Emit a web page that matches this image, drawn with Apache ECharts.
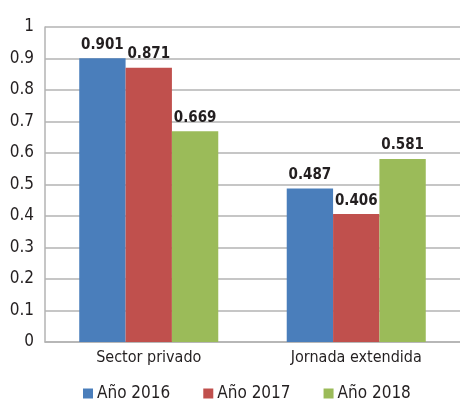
<!DOCTYPE html>
<html>
<head>
<meta charset="utf-8">
<script src="https://cdn.jsdelivr.net/npm/echarts@6/dist/echarts.min.js"></script>
<style>
html, body { margin: 0; padding: 0; background: #fff; }
#chart-panel { width: 460px; height: 402px; }
</style>
</head>
<body>
<div id="chart-panel"></div>
<script>
// datos
var categorias = ['Sector privado', 'Jornada extendida'];
var anios = ['Año 2016', 'Año 2017', 'Año 2018'];
var valores2016 = [0.901, 0.487];
var valores2017 = [0.871, 0.406];
var valores2018 = [0.669, 0.581];
var colores = ['#4a7ebb', '#c0504d', '#9bbb59'];

var fuente = '"DejaVu Sans Condensed", "Liberation Sans Narrow", sans-serif';
var colorTexto = '#231f20';
var colorLinea = '#b3b3b3';

var myChart = echarts.init(document.getElementById('chart-panel'));

function serie(nombre, datos, color) {
    return {
        name: nombre,
        type: 'bar',
        barGap: '0%',
        barCategoryGap: '33%',
        itemStyle: { color: color },
        label: {
            show: true,
            position: 'top',
            distance: 6,
            fontFamily: fuente,
            fontWeight: 'bold',
            fontSize: 15,
            color: colorTexto,
            formatter: function (p) { return p.value.toFixed(3); }
        },
        data: datos
    };
}

var option = {
    animation: false,
    grid: { left: 45, top: 27, width: 420, height: 315 },
    legend: {
        top: 380,
        left: 78,
        itemWidth: 10,
        itemHeight: 10,
        itemGap: 33,
        icon: 'rect',
        textStyle: { fontFamily: fuente, fontSize: 17, color: colorTexto, padding: [0, 0, 0, -1] },
        data: anios
    },
    xAxis: {
        type: 'category',
        data: categorias,
        axisLine: { lineStyle: { color: colorLinea, width: 1.5 } },
        axisTick: { show: false },
        axisLabel: { fontFamily: fuente, fontSize: 16, color: colorTexto, margin: 8 }
    },
    yAxis: {
        type: 'value',
        min: 0,
        max: 1,
        interval: 0.1,
        axisLine: { show: true, lineStyle: { color: colorLinea, width: 1.5 } },
        axisTick: { show: false },
        splitLine: { lineStyle: { color: colorLinea, width: 1.5 } },
        axisLabel: { fontFamily: fuente, fontSize: 17, color: colorTexto, margin: 11 }
    },
    series: [
        serie(anios[0], valores2016, colores[0]),
        serie(anios[1], valores2017, colores[1]),
        serie(anios[2], valores2018, colores[2])
    ]
};
myChart.setOption(option);
</script>
</body>
</html>
